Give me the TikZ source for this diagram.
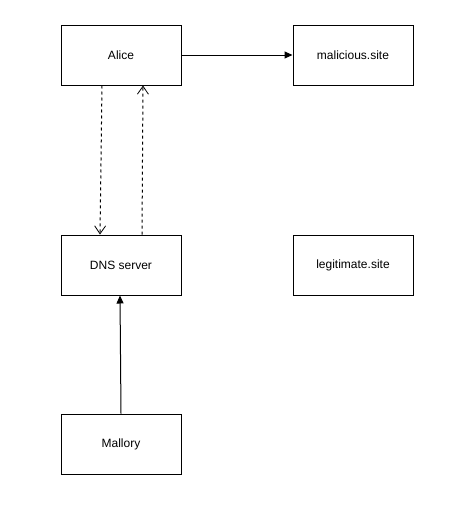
\documentclass[tikz,border=0pt]{standalone}
\usepackage{fontspec}
\setmainfont{Liberation Sans}
\usetikzlibrary{arrows.meta}
\begin{document}
\begin{tikzpicture}[x=1pt,y=-1pt,
  box/.style={draw,line width=1pt,minimum width=120pt,minimum height=60pt,inner sep=0pt,font=\fontsize{12}{14}\selectfont},
  solidarrow/.style={line width=1pt,-{Triangle[length=8pt,width=7pt]}},
  dasharrow/.style={line width=1pt,dash pattern=on 3pt off 3pt,-{Straight Barb[length=8pt,width=11pt,line width=0.8pt]}}]
\useasboundingbox (0,0) rectangle (464,509);
\node[box] (alice) at (121,55) {Alice};
\node[box] (mal) at (353,55) {malicious.site};
\node[box] (dns) at (121,265) {DNS server};
\node[box] (leg) at (353,265) {legitimate.site};
\node[box] (mallory) at (121,444) {Mallory};
\draw[solidarrow] (alice.east) -- (mal.west);
\draw[dasharrow] (alice.south -| 102,0) -- (dns.north -| 100,0);
\draw[dasharrow] (dns.north -| 142,0) -- (alice.south -| 143,0);
\draw[solidarrow] (mallory.north) -- (dns.south -| 120,0);
\end{tikzpicture}
\end{document}
